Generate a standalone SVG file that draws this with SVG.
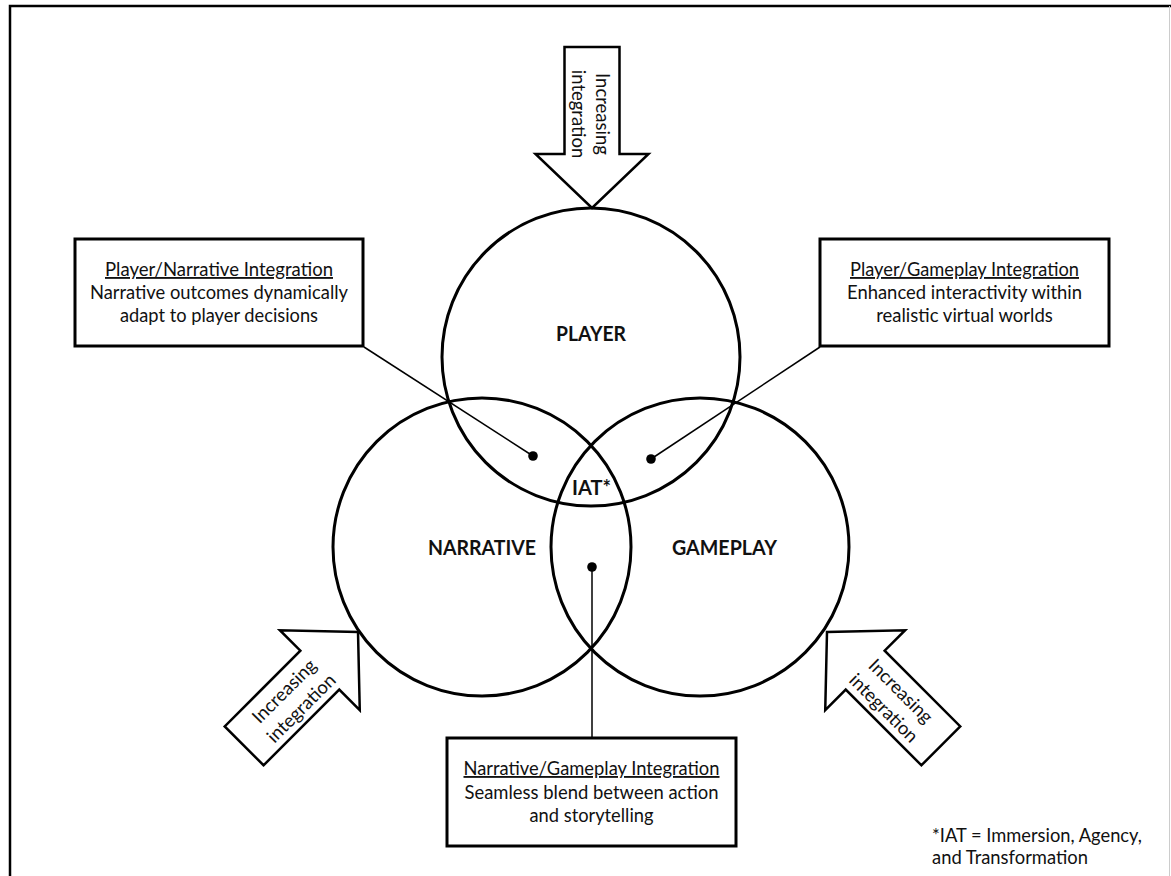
<svg xmlns="http://www.w3.org/2000/svg" width="1171" height="876" viewBox="0 0 1171 876">
<style>
.t{font-family:Lato,"Liberation Sans",sans-serif;font-size:18.5px;fill:#111}
.b{font-family:Lato,"Liberation Sans",sans-serif;font-size:21px;font-weight:bold;fill:#111}
.u{text-decoration:underline}
.circ{fill:none;stroke:#000;stroke-width:3}
.box{fill:#fff;stroke:#000;stroke-width:3}
.arr{fill:#fff;stroke:#000;stroke-width:2.5;stroke-linejoin:miter}
.con{stroke:#000;stroke-width:1.5;fill:none}
.dot{fill:#000}
</style>
<defs>
<polygon id="arrowShape" class="arr" points="-27.5,-161 27.5,-161 27.5,-54 56.5,-54 0,0 -56.5,-54 -27.5,-54"/>
</defs>
<rect width="1171" height="876" fill="#fff"/>
<g id="frame">
<path d="M10,876 V6 H1171" fill="none" stroke="#000" stroke-width="2.5"/>
<line x1="1169.5" y1="6" x2="1169.5" y2="876" stroke="#ccc" stroke-width="1"/>
</g>
<g id="node-player">
<circle class="circ" cx="591" cy="357" r="149"/>
<text class="b" x="591" y="341" text-anchor="middle" textLength="70" lengthAdjust="spacingAndGlyphs">PLAYER</text>
</g>
<g id="node-narrative">
<circle class="circ" cx="482" cy="547" r="149"/>
<text class="b" x="482" y="555" text-anchor="middle" textLength="108" lengthAdjust="spacingAndGlyphs">NARRATIVE</text>
</g>
<g id="node-gameplay">
<circle class="circ" cx="700" cy="547" r="149"/>
<text class="b" x="724.5" y="555" text-anchor="middle" textLength="105" lengthAdjust="spacingAndGlyphs">GAMEPLAY</text>
</g>
<g id="node-iat">
<text class="b" x="591.5" y="495" text-anchor="middle" textLength="39" lengthAdjust="spacingAndGlyphs">IAT*</text>
</g>
<g id="connectors">
<line class="con" x1="533" y1="456" x2="364" y2="347"/>
<line class="con" x1="651" y1="459" x2="820" y2="347"/>
<line class="con" x1="592" y1="567" x2="592" y2="738"/>
<circle class="dot" cx="533" cy="456" r="4.8"/>
<circle class="dot" cx="651" cy="459" r="4.8"/>
<circle class="dot" cx="592" cy="567" r="4.8"/>
</g>
<g id="box-player-narrative">
<rect class="box" x="75" y="239" width="288" height="107"/>
<text class="t u" x="219" y="276" text-anchor="middle" textLength="228" lengthAdjust="spacingAndGlyphs">Player/Narrative Integration</text>
<text class="t" x="219" y="299" text-anchor="middle" textLength="258" lengthAdjust="spacingAndGlyphs">Narrative outcomes dynamically</text>
<text class="t" x="219" y="322" text-anchor="middle" textLength="198" lengthAdjust="spacingAndGlyphs">adapt to player decisions</text>
</g>
<g id="box-player-gameplay">
<rect class="box" x="820" y="239" width="289" height="107"/>
<text class="t u" x="964.5" y="276" text-anchor="middle" textLength="229" lengthAdjust="spacingAndGlyphs">Player/Gameplay Integration</text>
<text class="t" x="964.5" y="299" text-anchor="middle" textLength="235" lengthAdjust="spacingAndGlyphs">Enhanced interactivity within</text>
<text class="t" x="964.5" y="322" text-anchor="middle">realistic virtual worlds</text>
</g>
<g id="box-narrative-gameplay">
<rect class="box" x="447" y="738" width="289" height="108"/>
<text class="t u" x="591.5" y="775" text-anchor="middle" textLength="256" lengthAdjust="spacingAndGlyphs">Narrative/Gameplay Integration</text>
<text class="t" x="591.5" y="798.5" text-anchor="middle" textLength="254" lengthAdjust="spacingAndGlyphs">Seamless blend between action</text>
<text class="t" x="591.5" y="822" text-anchor="middle" textLength="124" lengthAdjust="spacingAndGlyphs">and storytelling</text>
</g>
<g id="arrow-top" transform="translate(592,208)">
<use href="#arrowShape"/>
<text class="t" transform="translate(0,-94) rotate(90)" text-anchor="middle"><tspan x="0" y="-4">Increasing</tspan><tspan x="0" y="20">integration</tspan></text>
</g>
<g id="arrow-left" transform="translate(358,632) rotate(-135)">
<use href="#arrowShape"/>
<text class="t" transform="translate(0,-94) rotate(90)" text-anchor="middle"><tspan x="0" y="-4">Increasing</tspan><tspan x="0" y="20">integration</tspan></text>
</g>
<g id="arrow-right" transform="translate(827,632) rotate(135)">
<use href="#arrowShape"/>
<text class="t" transform="translate(0,-94) rotate(-90)" text-anchor="middle"><tspan x="0" y="-4">Increasing</tspan><tspan x="0" y="20">integration</tspan></text>
</g>
<g id="note">
<text class="t" x="932" y="842" textLength="210" lengthAdjust="spacingAndGlyphs">*IAT = Immersion, Agency,</text>
<text class="t" x="932" y="864" textLength="156" lengthAdjust="spacingAndGlyphs">and Transformation</text>
</g>
</svg>
